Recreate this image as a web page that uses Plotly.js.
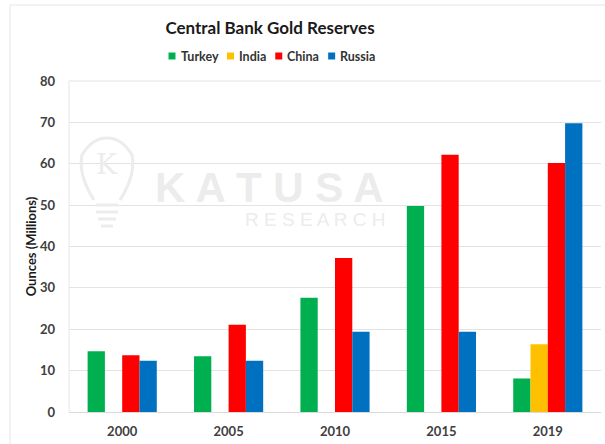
<!DOCTYPE html>
<html>
<head>
<meta charset="utf-8">
<script src="https://cdn.plot.ly/plotly-3.0.1.min.js"></script>
<style>html,body{margin:0;padding:0;background:#fff;}#chart{width:605px;height:444px;}</style>
</head>
<body>
<div id="chart"></div>
<script>
const years = ["2000", "2005", "2010", "2015", "2019"];
const turkey = [14.7, 13.5, 27.6, 49.8, 8.1];
const india = [0, 0, 0, 0, 16.4];
const china = [13.7, 21.1, 37.2, 62.2, 60.2];
const russia = [12.4, 12.4, 19.4, 19.4, 69.8];
const yTicks = [0, 10, 20, 30, 40, 50, 60, 70, 80];

const seriesNames = ["Turkey", "India", "China", "Russia"];
const seriesValues = [turkey, india, china, russia];
const colors = ["#00B050", "#FFC000", "#FF0000", "#0070C0"];

const traces = seriesNames.map((n, i) => ({
  type: "bar", name: n, x: years, y: seriesValues[i],
  marker: {color: colors[i]}, showlegend: false
}));

// pixel -> paper helpers (plot area: x 69..601, y 81..412)
const PL = 69, PW = 532, PB = 412, PH = 331;
const px = v => (v - PL) / PW;
const py = v => (PB - v) / PH;

// custom compact legend built from the series names
const ctx = document.createElement("canvas").getContext("2d");
ctx.font = "bold 12.5px Lato";
const sq = 7, gapSym = 4, gapItem = 10;
const widths = seriesNames.map(n => sq + gapSym + ctx.measureText(n).width);
const totalW = widths.reduce((a, b) => a + b, 0) + gapItem * (seriesNames.length - 1);
let cur = 271.5 - totalW / 2;
const legY = 56;
const legendShapes = [], legendAnns = [];
seriesNames.forEach((n, i) => {
  legendShapes.push({type: "rect", xref: "paper", yref: "paper",
    x0: px(cur), x1: px(cur + sq), y0: py(legY + sq / 2), y1: py(legY - sq / 2),
    fillcolor: colors[i], line: {width: 0}});
  legendAnns.push({text: "<b>" + n + "</b>", xref: "paper", yref: "paper",
    x: px(cur + sq + gapSym), y: py(legY), xanchor: "left", yanchor: "middle",
    showarrow: false, borderpad: 0, font: {size: 12.5, color: "#333333", family: "Lato, sans-serif"}});
  cur += widths[i] + gapItem;
});

const wm = "#ececec";
const layout = {
  width: 605, height: 444,
  margin: {l: 69, r: 4, t: 81, b: 32},
  paper_bgcolor: "#fff", plot_bgcolor: "#fff",
  font: {family: "Lato, 'Open Sans', sans-serif", color: "#404040"},
  title: {text: "<b>Central Bank Gold Reserves</b>", font: {size: 17, color: "#1a1a1a", family: "Lato, sans-serif"},
          x: 270 / 605, xanchor: "center", y: 1 - 28/444, yanchor: "middle", yref: "container"},
  barmode: "group", bargap: 0.35, bargroupgap: 0,
  showlegend: false,
  xaxis: {type: "category", showgrid: false, showline: true, linecolor: "#d9d9d9", linewidth: 1,
          ticks: "", tickfont: {size: 13, color: "#404040", weight: "bold"}, ticklabelstandoff: 7,
          fixedrange: true},
  yaxis: {range: [0, 80], tickvals: yTicks, ticktext: yTicks.map(String), showgrid: true,
          gridcolor: "#e3e3e3", gridwidth: 1, zeroline: false, showline: false,
          ticks: "", tickfont: {size: 13, color: "#404040", weight: "bold"}, ticklabelstandoff: 13,
          title: {text: "<b>Ounces (Millions)</b>", font: {size: 13, color: "#1a1a1a"}, standoff: 0},
          fixedrange: true},
  annotations: [
    {text: "<b>K A T U S A</b>", xref: "paper", yref: "paper", x: px(269), y: py(187),
     xanchor: "center", yanchor: "middle", showarrow: false,
     font: {size: 42, color: wm, family: "'Liberation Sans', Arial, sans-serif"}},
    {text: "R E S E A R C H", xref: "paper", yref: "paper", x: px(315), y: py(219),
     xanchor: "center", yanchor: "middle", showarrow: false,
     font: {size: 19, color: wm, family: "'Liberation Sans', Arial, sans-serif"}},
    {text: "K", xref: "paper", yref: "paper", x: px(107), y: py(164),
     xanchor: "center", yanchor: "middle", showarrow: false,
     font: {size: 28, color: wm, family: "'DejaVu Serif', serif"}}
  ].concat(legendAnns),
  shapes: [
    {type: "rect", xref: "paper", yref: "paper", x0: px(10), x1: 1.02, y0: -0.2, y1: py(5),
     line: {color: "#e6e6e6", width: 1}, layer: "below"},
    {type: "line", xref: "paper", yref: "paper", x0: 0, x1: 0, y0: 0, y1: 1,
     line: {color: "#e6e6e6", width: 1}, layer: "below"},
    {type: "line", xref: "paper", yref: "paper", x0: 0, x1: 1, y0: 1, y1: 1,
     line: {color: "#e3e3e3", width: 1}, layer: "below"},
    {type: "path", xref: "paper", yref: "paper", layer: "above",
     path: "M " + px(94) + "," + py(200) + " Q " + px(78) + "," + py(175) + " " + px(82) + "," + py(155)
       + " Q " + px(92) + "," + py(138) + " " + px(107) + "," + py(138)
       + " Q " + px(122) + "," + py(138) + " " + px(132) + "," + py(155)
       + " Q " + px(136) + "," + py(175) + " " + px(120) + "," + py(200),
     line: {color: wm, width: 3}},
    {type: "line", xref: "paper", yref: "paper", x0: px(96), x1: px(118), y0: py(205), y1: py(205), line: {color: wm, width: 3}},
    {type: "line", xref: "paper", yref: "paper", x0: px(96), x1: px(118), y0: py(212), y1: py(212), line: {color: wm, width: 3}},
    {type: "line", xref: "paper", yref: "paper", x0: px(98), x1: px(116), y0: py(219), y1: py(219), line: {color: wm, width: 3}},
    {type: "line", xref: "paper", yref: "paper", x0: px(101), x1: px(113), y0: py(226), y1: py(226), line: {color: wm, width: 3}}
  ].concat(legendShapes)
};

Plotly.newPlot("chart", traces, layout, {displayModeBar: false, staticPlot: true});
</script>
</body>
</html>
